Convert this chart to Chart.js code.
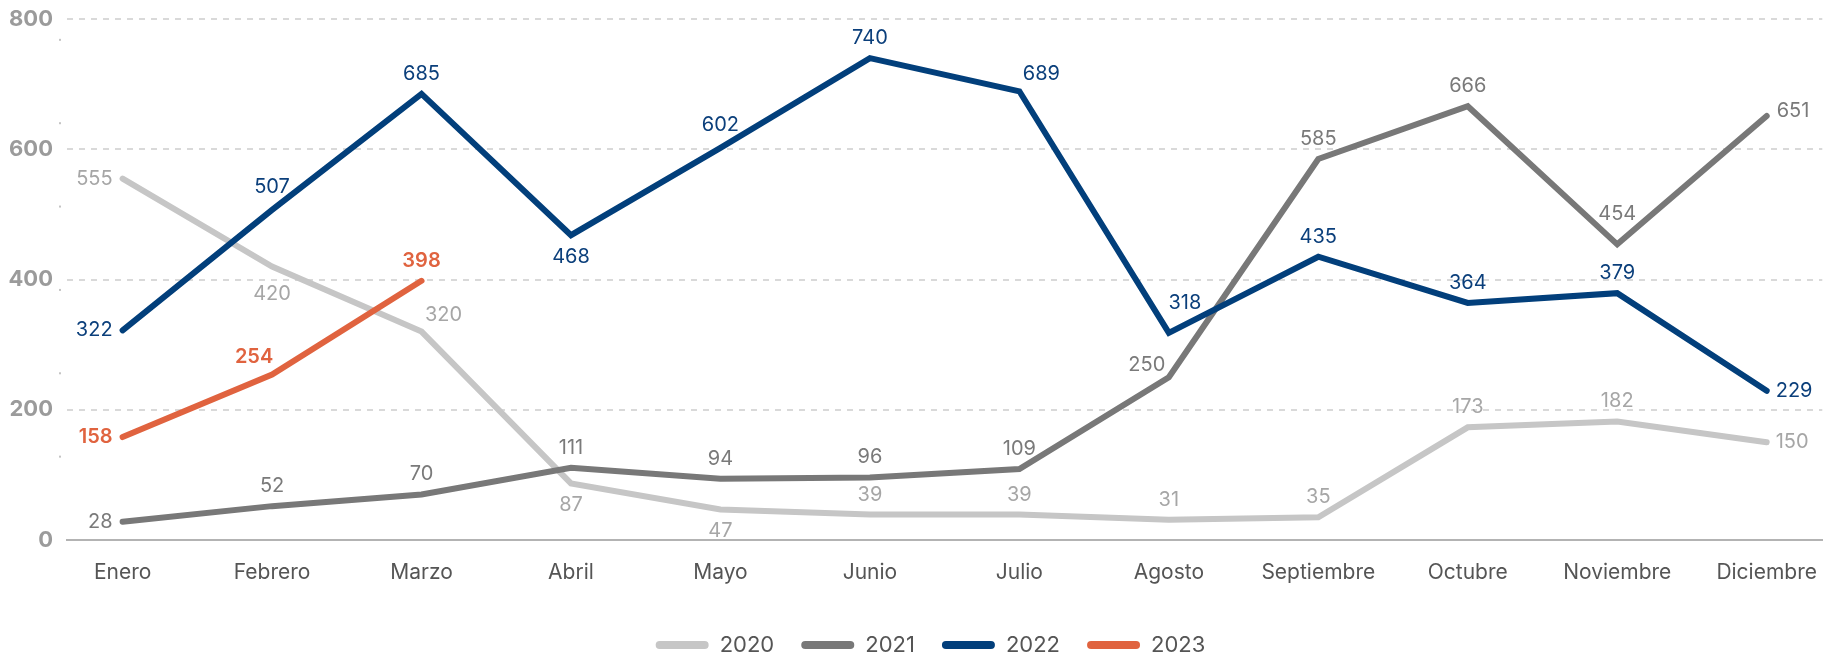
<!DOCTYPE html>
<html lang="es">
<head>
    <meta charset="UTF-8">
    <title>Evolución mensual 2020-2023</title>
    <script src="https://cdn.jsdelivr.net/npm/chart.js"></script>
    <style>
        html, body {
            margin: 0;
            padding: 0;
            background: #fff;
            overflow: hidden;
        }
        canvas {
            display: block;
        }
    </style>
</head>
<body>
    <canvas id="chart" width="1837" height="666"></canvas>
    <script>
        const months = ['Enero', 'Febrero', 'Marzo', 'Abril', 'Mayo', 'Junio', 'Julio',
            'Agosto', 'Septiembre', 'Octubre', 'Noviembre', 'Diciembre'];

        const y2020 = [555, 420, 320, 87, 47, 39, 39, 31, 35, 173, 182, 150];
        const y2021 = [28, 52, 70, 111, 94, 96, 109, 250, 585, 666, 454, 651];
        const y2022 = [322, 507, 685, 468, 602, 740, 689, 318, 435, 364, 379, 229];
        const y2023 = [158, 254, 398];

        const yTicks = [0, 200, 400, 600, 800];
        const minorDots = [128, 256, 384, 512, 640, 768];

        // donde va cada etiqueta respecto al punto
        const pos2020 = ['l', 'bb', 'ar', 'b', 'b', 'a', 'a', 'a', 'a', 'a', 'a', 'r'];
        const pos2021 = ['l', 'a', 'a', 'a', 'a', 'a', 'a', 'al', 'a', 'a', 'aa', 'ru'];
        const pos2022 = ['l', 'ah', 'a', 'b', 'ah', 'a', 'ar', 'at', 'a', 'a', 'a', 'r'];
        const pos2023 = ['l', 'ul', 'a'];

        const offsets = {
            a: [0, -20, 'center'],
            ah: [0, -23, 'center'],
            aa: [0, -30, 'center'],
            b: [0, 22, 'center'],
            bb: [0, 28, 'center'],
            l: [-10, 0, 'right'],
            r: [9, 0, 'left'],
            ru: [10, -5, 'left'],
            ar: [22, -17, 'center'],
            at: [16, -30, 'center'],
            al: [-22, -12, 'center'],
            ul: [-18, -18, 'center']
        };

        const FONT = 'Inter, "Noto Sans", sans-serif';

        function points(values) {
            return values.map((v, i) => ({ x: i, y: v }));
        }

        const valueLabels = {
            id: 'valueLabels',
            afterDatasetsDraw(chart) {
                const ctx = chart.ctx;
                ctx.save();
                ctx.textBaseline = 'middle';
                chart.data.datasets.forEach((ds, di) => {
                    const meta = chart.getDatasetMeta(di);
                    ctx.fillStyle = ds.labelColor;
                    ctx.font = (ds.labelBold ? '600 ' : '400 ') + '20px ' + FONT;
                    meta.data.forEach((pt, i) => {
                        const o = offsets[ds.labelPos[i]];
                        ctx.textAlign = o[2];
                        ctx.fillText(String(ds.data[i].y), pt.x + o[0], pt.y + o[1]);
                    });
                });
                ctx.restore();
            }
        };

        const axisDots = {
            id: 'axisDots',
            afterLayout(chart) {
                // la leyenda del original está algo más a la derecha
                chart.legend.left += 12;
                chart.legend.right += 12;
            },
            afterDraw(chart) {
                const ctx = chart.ctx;
                const y = chart.scales.y;
                ctx.save();
                ctx.fillStyle = '#c4c4c4';
                minorDots.forEach(v => {
                    ctx.fillRect(chart.chartArea.left - 8, y.getPixelForValue(v) - 1, 2, 2);
                });
                ctx.restore();
            }
        };

        function lineSet(label, values, color, labelColor, labelPos, order, bold) {
            return {
                label: label,
                data: points(values),
                borderColor: color,
                backgroundColor: color,
                borderWidth: 6,
                borderCapStyle: 'round',
                pointRadius: 0,
                pointHoverRadius: 0,
                tension: 0,
                order: order,
                labelColor: labelColor,
                labelPos: labelPos,
                labelBold: bold
            };
        }

        new Chart(document.getElementById('chart'), {
            type: 'line',
            data: {
                datasets: [
                    lineSet('2020', y2020, '#c6c6c6', '#a6a6a6', pos2020, 3, false),
                    lineSet('2021', y2021, '#787878', '#7a7a7a', pos2021, 2, false),
                    lineSet('2022', y2022, '#023f7b', '#0b3f7b', pos2022, 1, false),
                    lineSet('2023', y2023, '#e0633f', '#e0633f', pos2023, 0, true)
                ]
            },
            options: {
                responsive: false,
                animation: false,
                layout: { padding: { top: 19, right: 0, bottom: 0, left: 0 } },
                scales: {
                    x: {
                        type: 'linear',
                        min: -0.372,
                        max: 11.372,
                        afterBuildTicks: s => { s.ticks = months.map((m, i) => ({ value: i })); },
                        afterFit: s => { s.height = 67; },
                        grid: { display: false, drawTicks: false },
                        border: { display: true, color: '#b3b3b3', width: 2 },
                        ticks: {
                            autoSkip: false,
                            maxRotation: 0,
                            padding: 20,
                            color: '#555',
                            font: { family: FONT, size: 21 },
                            callback: v => months[v]
                        }
                    },
                    y: {
                        min: 0,
                        max: 800,
                        afterBuildTicks: s => { s.ticks = yTicks.map(v => ({ value: v })); },
                        afterFit: s => { s.width = 67; },
                        grid: {
                            color: '#d9d9d9',
                            lineWidth: 2,
                            drawTicks: true,
                            tickLength: 14,
                            tickColor: 'rgba(0,0,0,0)'
                        },
                        border: { display: false, dash: [6, 6] },
                        ticks: {
                            padding: 0,
                            color: '#9b9b9b',
                            font: { family: FONT, size: 22, weight: '700' }
                        }
                    }
                },
                plugins: {
                    tooltip: { enabled: false },
                    legend: {
                        position: 'bottom',
                        labels: {
                            boxWidth: 53,
                            boxHeight: 8,
                            padding: 27,
                            useBorderRadius: true,
                            borderRadius: 4,
                            color: '#555',
                            font: { family: FONT, size: 22 },
                            sort: (a, b) => a.datasetIndex - b.datasetIndex,
                            generateLabels: chart => {
                                const items = Chart.defaults.plugins.legend.labels.generateLabels(chart);
                                items.forEach(it => {
                                    it.lineWidth = 0;
                                    it.strokeStyle = 'transparent';
                                });
                                return items;
                            }
                        }
                    }
                }
            },
            plugins: [valueLabels, axisDots]
        });
    </script>
</body>
</html>
